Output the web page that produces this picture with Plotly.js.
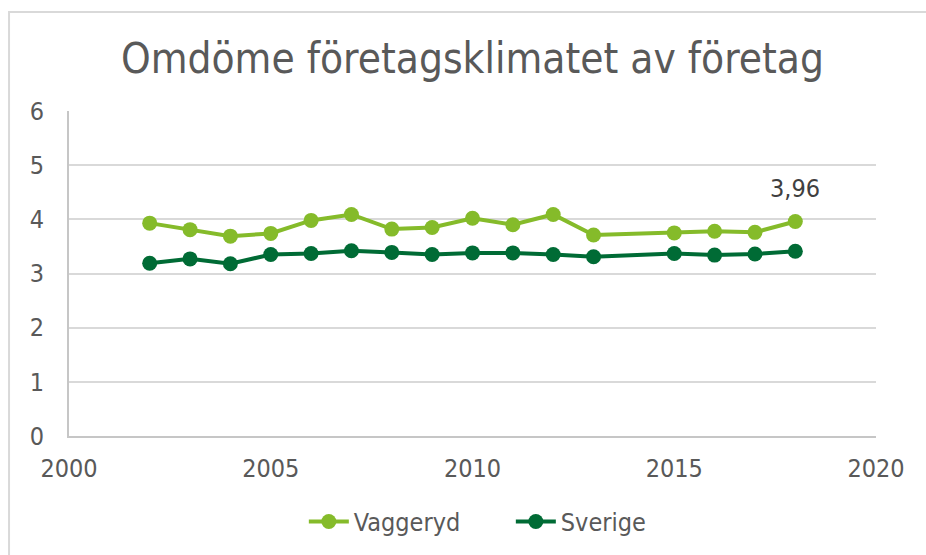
<!DOCTYPE html>
<html>
<head>
<meta charset="utf-8">
<script src="https://cdn.plot.ly/plotly-3.0.1.min.js"></script>
<style>
html,body{margin:0;padding:0;background:#fff;}
#chart{width:926px;height:555px;}
</style>
</head>
<body>
<div id="chart"></div>
<script>
const years = [2002,2003,2004,2005,2006,2007,2008,2009,2010,2011,2012,2013,2015,2016,2017,2018];
const vaggeryd = [3.93,3.81,3.69,3.74,3.98,4.09,3.82,3.85,4.02,3.90,4.09,3.71,3.75,3.78,3.76,3.96];
const sverige  = [3.19,3.27,3.18,3.35,3.37,3.42,3.39,3.35,3.38,3.38,3.35,3.31,3.37,3.34,3.36,3.41];
const seriesNames = ['Vaggeryd','Sverige'];
const titleText = 'Omdöme företagsklimatet av företag';

const FONT = '"DejaVu Sans Condensed", "DejaVu Sans", Verdana, sans-serif';
const TXT = '#595959';
const lightGreen = '#85bb2a';
const darkGreen = '#006b35';

const lastIdx = vaggeryd.length - 1;

const traces = [
  {x: years, y: vaggeryd, name: seriesNames[0], type: 'scatter', mode: 'lines+markers',
   line: {color: lightGreen, width: 4}, marker: {color: lightGreen, size: 15}},
  {x: years, y: sverige, name: seriesNames[1], type: 'scatter', mode: 'lines+markers',
   line: {color: darkGreen, width: 4}, marker: {color: darkGreen, size: 15}}
];

const layout = {
  width: 926, height: 555,
  margin: {l: 69, r: 50, t: 111, b: 119, autoexpand: false},
  paper_bgcolor: '#fff', plot_bgcolor: '#fff',
  font: {family: FONT, color: TXT, size: 25},
  title: {text: titleText, font: {family: FONT, size: 42, color: TXT},
          x: 0.5, xref: 'paper', y: 0.895, yref: 'container', yanchor: 'middle'},
  xaxis: {range: [2000, 2020], tickvals: [2000,2005,2010,2015,2020], showgrid: false,
          zeroline: false, showline: true, linecolor: '#c6c6c6', linewidth: 2,
          ticks: '', ticklabelstandoff: 9, tickfont: {size: 25, color: TXT, family: FONT}},
  yaxis: {range: [0, 6], dtick: 1, showgrid: true, gridcolor: '#d9d9d9', gridwidth: 2,
          zeroline: false, showline: true, linecolor: '#c6c6c6', linewidth: 2,
          ticks: '', ticklabelstandoff: 18, tickfont: {size: 25, color: TXT, family: FONT}},
  showlegend: true,
  legend: {orientation: 'h', x: 0.291, xanchor: 'left', y: 0.06, yref: 'container', yanchor: 'middle',
           font: {size: 25, color: TXT, family: FONT}, itemwidth: 40,
           entrywidth: 152, entrywidthmode: 'pixels'},
  annotations: [{x: years[lastIdx], y: vaggeryd[lastIdx], xref: 'x', yref: 'y',
                 text: String(vaggeryd[lastIdx]).replace('.', ','), showarrow: false,
                 yshift: 33, font: {size: 25, color: '#404040', family: FONT}}],
  shapes: [{type: 'rect', xref: 'paper', yref: 'paper', x0: -0.0743, x1: 2, y0: -2, y1: 1.3046,
            line: {color: '#d9d9d9', width: 2}, fillcolor: 'rgba(0,0,0,0)', layer: 'below'}]
};

Plotly.newPlot('chart', traces, layout, {displayModeBar: false, staticPlot: true});
</script>
</body>
</html>
